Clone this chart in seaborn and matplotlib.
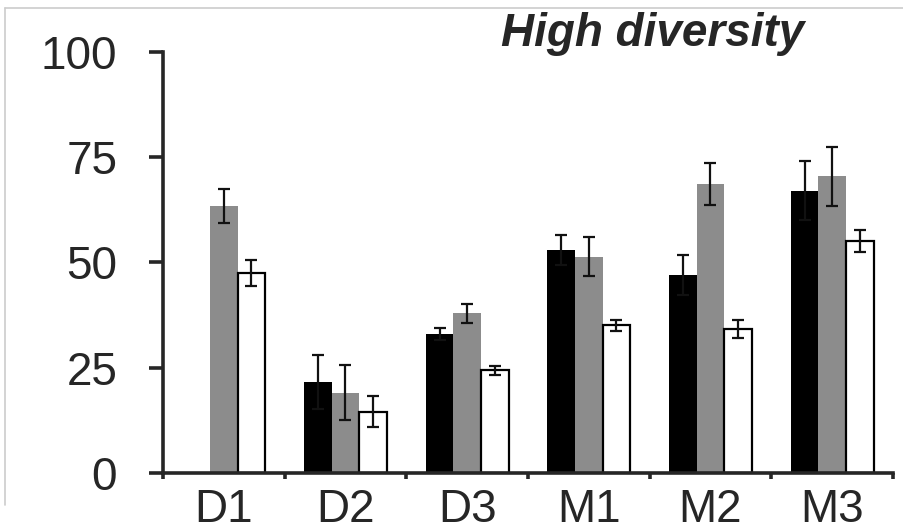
import numpy as np
import pandas as pd
import matplotlib
matplotlib.use("Agg")
import matplotlib.pyplot as plt
import seaborn as sns
from matplotlib.lines import Line2D

# values (percent)
categories = ["D1", "D2", "D3", "M1", "M2", "M3"]
series = ["black", "gray", "white"]
black_vals = [np.nan, 21.6, 33.0, 52.9, 47.0, 67.0]
black_err = [np.nan, 6.5, 1.5, 3.6, 4.7, 7.0]
gray_vals = [63.4, 19.1, 37.9, 51.4, 68.7, 70.5]
gray_err = [4.0, 6.5, 2.3, 4.6, 5.0, 7.0]
white_vals = [47.5, 14.6, 24.4, 35.1, 34.2, 55.1]
white_err = [3.0, 3.7, 1.1, 1.3, 2.2, 2.6]
yticks = [0, 25, 50, 75, 100]
title = "High diversity"

colors = {"black": "#000000", "gray": "#8c8c8c", "white": "#ffffff"}

vals = {"black": black_vals, "gray": gray_vals, "white": white_vals}
errs = {"black": black_err, "gray": gray_err, "white": white_err}

rows = []
for s in series:
    for c, v, e in zip(categories, vals[s], errs[s]):
        rows.append({"cat": c, "series": s, "value": v, "err": e})
df = pd.DataFrame(rows)

sns.set_style("ticks")
plt.rcParams["font.family"] = ["Liberation Sans", "DejaVu Sans"]

fig = plt.figure(figsize=(9.04, 5.32), dpi=100)
ax = fig.add_axes([0.1803, 0.1109, 0.8075, 0.7914])

sns.barplot(data=df.dropna(subset=["value"]), x="cat", y="value", hue="series",
            order=categories, hue_order=series, palette=colors,
            width=0.68, gap=0, errorbar=None, legend=False, ax=ax,
            saturation=1)

# edges and error bars
for s, cont in zip(series, ax.containers):
    for bar in cont:
        if s == "white":
            bar.set_edgecolor("black")
            bar.set_linewidth(1.6)
        else:
            bar.set_edgecolor("none")
        xc = bar.get_x() + bar.get_width() / 2
        i = int(round(xc))
        v = vals[s][i]
        e = errs[s][i]
        if np.isnan(v):
            continue
        ax.errorbar(xc, v, yerr=e, fmt="none", ecolor="#111111",
                    elinewidth=1.6, capsize=4.5, capthick=1.6, zorder=5)

ax.set_xlim(-0.5, len(categories) - 0.5)
ax.set_ylim(0, 100)
ax.set_yticks(yticks)
ax.set_xlabel("")
ax.set_ylabel("")
ax.set_xticks(np.arange(-0.5, len(categories), 1.0), minor=True)
ax.tick_params(axis="x", which="major", length=0, pad=11, labelsize=33)
ax.tick_params(axis="x", which="minor", length=4, width=2.6, direction="out")
ax.tick_params(axis="y", length=10, width=2.6, pad=23, labelsize=33, direction="out")
sns.despine(ax=ax)
for sp in ["left", "bottom"]:
    ax.spines[sp].set_linewidth(2.6)

fig.text(0.722, 0.978, title, ha="center", va="top", fontsize=33,
         fontweight="bold", fontstyle="italic")

# faint frame of the original screenshot
fig.add_artist(Line2D([0.006, 1.0], [0.985, 0.985], color="#cccccc", lw=1.2))
fig.add_artist(Line2D([0.006, 0.006], [0.05, 0.985], color="#cccccc", lw=1.2))

fig.savefig("out.png", dpi=100)
